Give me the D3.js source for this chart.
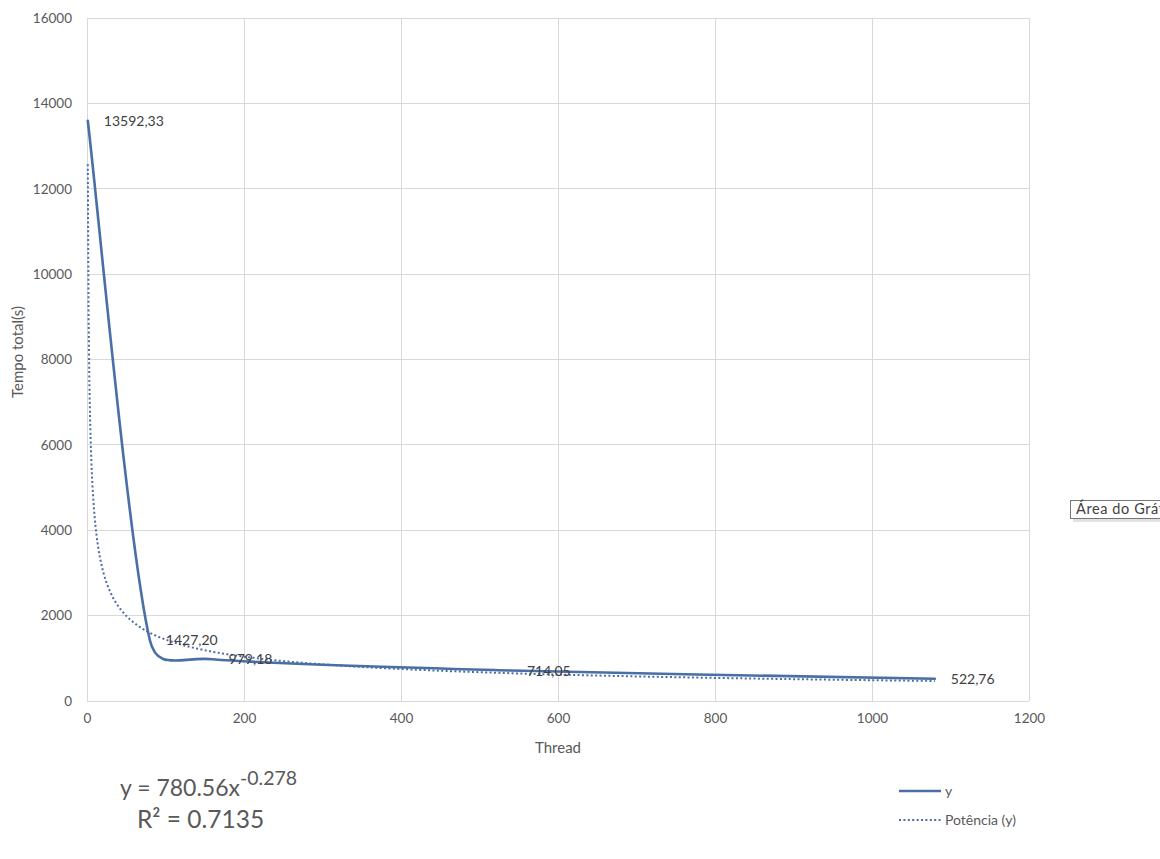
<!DOCTYPE html>
<html>
<head>
<meta charset="utf-8">
<script src="https://cdn.jsdelivr.net/npm/d3@7"></script>
<style>
  html, body { margin: 0; padding: 0; background: #fff; overflow: hidden; }
  svg { display: block; }
</style>
</head>
<body>
<script>
// Measured run times per thread count
const threads = [1, 80, 160, 540, 1080];
const tempo = [13592.33, 1427.20, 979.18, 714.05, 522.76];
const pointLabels = ["13592,33", "1427,20", "979,18", "714,05", "522,76"];
const xTicks = [0, 200, 400, 600, 800, 1000, 1200];
const yTicks = [0, 2000, 4000, 6000, 8000, 10000, 12000, 14000, 16000];
const legendNames = ["y", "Potência (y)"];

const W = 1160, H = 859;
const font = "Lato, 'Open Sans', sans-serif";
const lineColor = "#4a6ea6";
const textColor = "#595959";
const gridColor = "#d9d9d9";

const svg = d3.select("body").append("svg").attr("width", W).attr("height", H);

const x = d3.scaleLinear().domain([0, 1200]).range([87, 1029]);
const y = d3.scaleLinear().domain([0, 16000]).range([701, 18]);

// Gridlines
svg.append("g").selectAll("line").data(xTicks).join("line")
  .attr("x1", d => x(d)).attr("x2", d => x(d))
  .attr("y1", y(0)).attr("y2", y(16000))
  .attr("stroke", gridColor).attr("stroke-width", 1).attr("shape-rendering", "crispEdges");
svg.append("g").selectAll("line").data(yTicks).join("line")
  .attr("x1", x(0)).attr("x2", x(1200))
  .attr("y1", d => y(d)).attr("y2", d => y(d))
  .attr("stroke", gridColor).attr("stroke-width", 1).attr("shape-rendering", "crispEdges");

// Axes (labels only)
const xAxis = svg.append("g").attr("transform", `translate(0,${y(0)})`)
  .call(d3.axisBottom(x).tickValues(xTicks).tickSize(0).tickPadding(12).tickFormat(d3.format("d")));
xAxis.select(".domain").remove();
xAxis.selectAll("text").attr("fill", textColor).style("font-family", font).style("font-size", "13.5px");

const yAxis = svg.append("g").attr("transform", `translate(${x(0)},0)`)
  .call(d3.axisLeft(y).tickValues(yTicks).tickSize(0).tickPadding(15).tickFormat(d3.format("d")));
yAxis.select(".domain").remove();
yAxis.selectAll("text").attr("fill", textColor).style("font-family", font).style("font-size", "13.5px");

// Axis titles
svg.append("text").attr("x", x(600)).attr("y", 753).attr("text-anchor", "middle")
  .attr("fill", textColor).style("font-family", font).style("font-size", "15px").text("Thread");
svg.append("text").attr("transform", `translate(23,352) rotate(-90)`)
  .attr("text-anchor", "middle").attr("fill", textColor)
  .style("font-family", font).style("font-size", "15px").text("Tempo total(s)");

// Power trendline fitted by least squares on ln(x), ln(y)
const lx = threads.map(Math.log), ly = tempo.map(Math.log);
const mx = d3.mean(lx), my = d3.mean(ly);
const b = d3.sum(lx, (v, i) => (v - mx) * (ly[i] - my)) / d3.sum(lx, v => (v - mx) ** 2);
const a = Math.exp(my - b * mx);
const trendX = d3.range(threads[0], threads[threads.length - 1] + 0.5, 1);
const trend = trendX.map(t => [t, a * Math.pow(t, b)]);

svg.append("path").datum(trend)
  .attr("d", d3.line().x(d => x(d[0])).y(d => y(d[1])))
  .attr("fill", "none").attr("stroke", lineColor).attr("stroke-width", 2)
  .attr("stroke-dasharray", "2,2.4");

// Smoothed series: cubic Bezier segments whose control handles follow the
// neighbouring points (1/6 rule) but never reach past half of the segment.
function smoothPath(p) {
  const path = d3.path();
  const dist = (u, v) => Math.hypot(v[0] - u[0], v[1] - u[1]);
  path.moveTo(p[0][0], p[0][1]);
  for (let i = 0; i < p.length - 1; i++) {
    const p0 = p[Math.max(i - 1, 0)], p1 = p[i], p2 = p[i + 1], p3 = p[Math.min(i + 2, p.length - 1)];
    const d12 = dist(p1, p2), d02 = dist(p0, p2), d13 = dist(p1, p3);
    const f1 = d02 / 6 < d12 / 2 ? 1 / 6 : d12 / (2 * d02);
    const f2 = d13 / 6 < d12 / 2 ? 1 / 6 : d12 / (2 * d13);
    const c1 = [p1[0] + (p2[0] - p0[0]) * f1, p1[1] + (p2[1] - p0[1]) * f1];
    const c2 = [p2[0] - (p3[0] - p1[0]) * f2, p2[1] - (p3[1] - p1[1]) * f2];
    path.bezierCurveTo(c1[0], c1[1], c2[0], c2[1], p2[0], p2[1]);
  }
  return path.toString();
}

const pts = threads.map((t, i) => [t, tempo[i]]);
const screenPts = pts.map(d => [x(d[0]), y(d[1])]);
svg.append("path")
  .attr("d", smoothPath(screenPts))
  .attr("fill", "none").attr("stroke", lineColor).attr("stroke-width", 2.6)
  .attr("stroke-linecap", "round");

// Data labels to the right of each point
svg.append("g").selectAll("text").data(pts).join("text")
  .attr("x", d => x(d[0]) + 16).attr("y", d => y(d[1]) + 5)
  .attr("fill", "#404040").style("font-family", font).style("font-size", "14px")
  .text((d, i) => pointLabels[i]);

// Legend
const lg = svg.append("g");
lg.append("line").attr("x1", 899).attr("x2", 941).attr("y1", 791).attr("y2", 791)
  .attr("stroke", lineColor).attr("stroke-width", 2.6);
lg.append("line").attr("x1", 899).attr("x2", 941).attr("y1", 820).attr("y2", 820)
  .attr("stroke", lineColor).attr("stroke-width", 2).attr("stroke-dasharray", "2,2.4");
lg.append("text").attr("x", 945).attr("y", 796).attr("fill", textColor)
  .style("font-family", font).style("font-size", "14px").text(legendNames[0]);
lg.append("text").attr("x", 945).attr("y", 825).attr("fill", textColor)
  .style("font-family", font).style("font-size", "14px").text(legendNames[1]);

// Trendline equation
const eq = svg.append("text").attr("x", 120).attr("y", 796).attr("fill", textColor)
  .style("font-family", font).style("font-size", "23px");
eq.append("tspan").text("y = 780.56x");
eq.append("tspan").attr("dy", -11).style("font-size", "19.5px").text("-0.278");
svg.append("text").attr("x", 137).attr("y", 828).attr("fill", textColor)
  .style("font-family", font).style("font-size", "24.5px").text("R² = 0.7135");

// Chart area tooltip, running past the right edge of the page
const tip = svg.append("g");
tip.append("rect").attr("x", 1073).attr("y", 503).attr("width", 100).attr("height", 19)
  .attr("fill", "#cfcfcf").attr("opacity", 0.6);
tip.append("rect").attr("x", 1070.5).attr("y", 500.5).attr("width", 100).attr("height", 18)
  .attr("fill", "#fff").attr("stroke", "#767676").attr("stroke-width", 1);
tip.append("text").attr("x", 1076).attr("y", 514).attr("fill", "#404040")
  .style("font-family", font).style("font-size", "14.5px").style("letter-spacing", "0.6px")
  .text("Área do Gráfico");
</script>
</body>
</html>
